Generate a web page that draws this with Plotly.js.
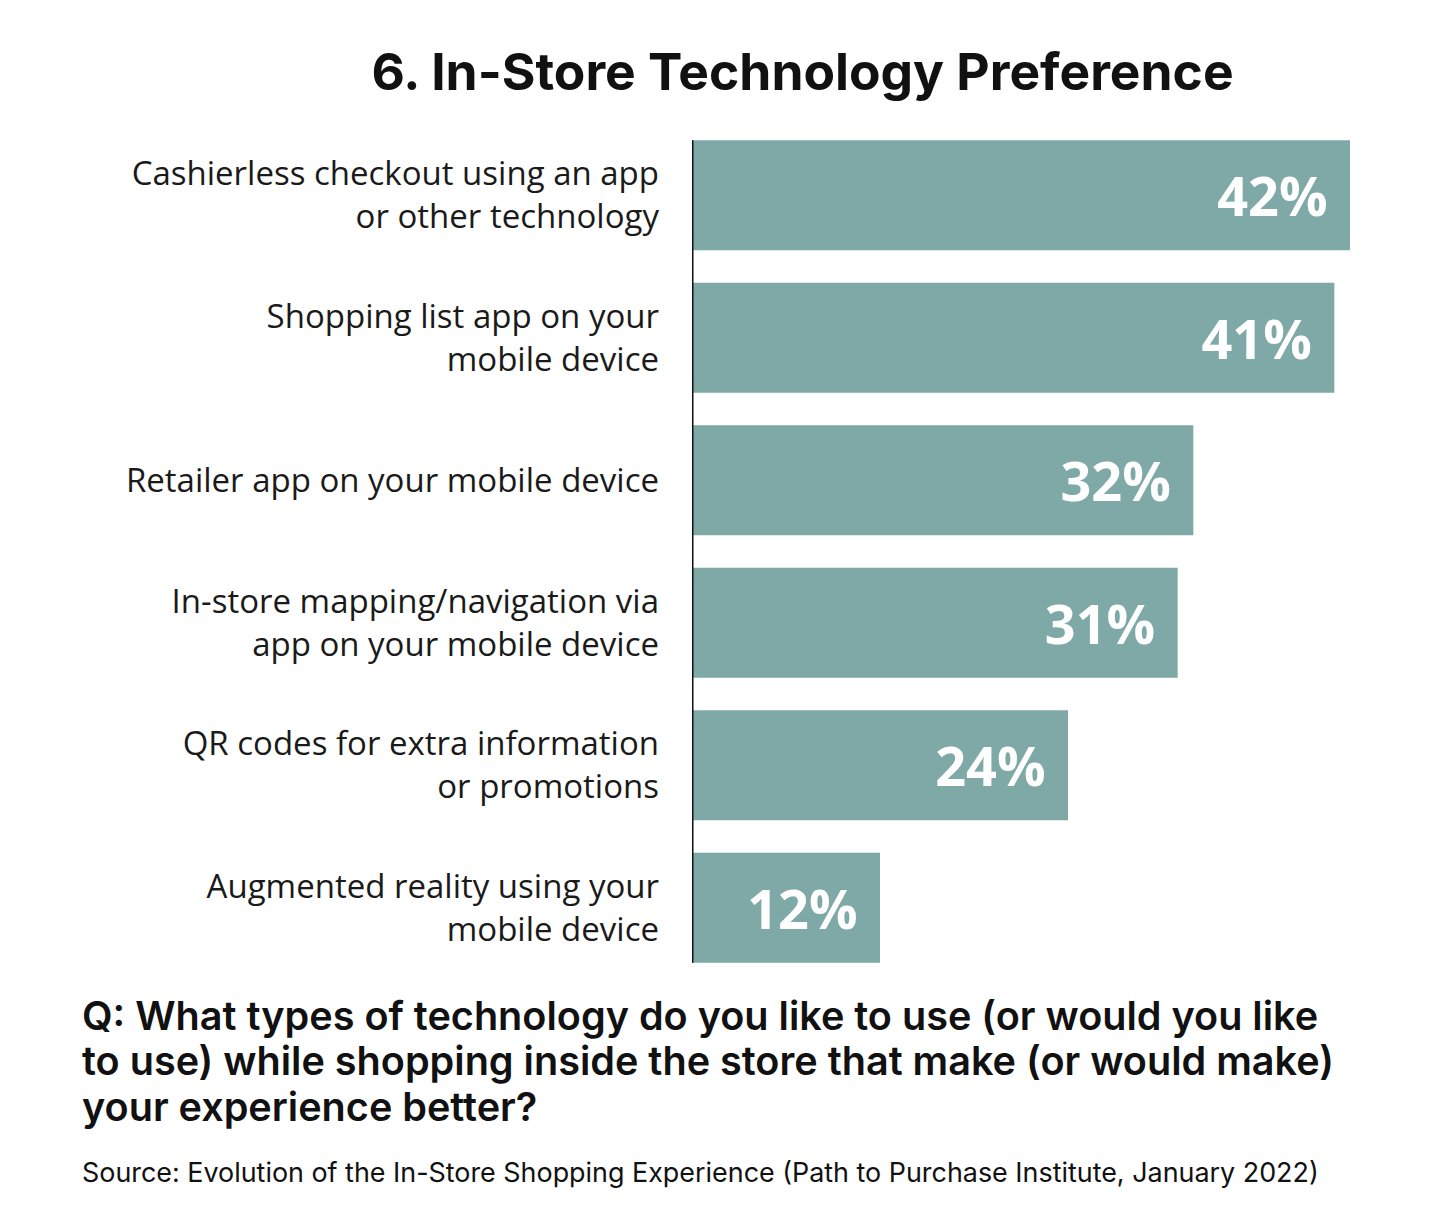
<!DOCTYPE html>
<html>
<head>
<meta charset="utf-8">
<script src="https://cdn.plot.ly/plotly-3.0.1.min.js"></script>
<style>
  html, body { margin: 0; padding: 0; background: #ffffff; }
  #chart { width: 1440px; height: 1220px; }
</style>
</head>
<body>
<div id="chart"></div>
<script>
const categories = [
  "Cashierless checkout using an app<br>or other technology",
  "Shopping list app on your<br>mobile device",
  "Retailer app on your mobile device",
  "In-store mapping/navigation via<br>app on your mobile device",
  "QR codes for extra information<br>or promotions",
  "Augmented reality using your<br>mobile device"
];
const values = [42, 41, 32, 31, 24, 12];

const titleText = "6. In-Store Technology Preference";
const questionLines = [
  "Q: What types of technology do you like to use (or would you like",
  "to use) while shopping inside the store that make (or would make)",
  "your experience better?"
];
const sourceText = "Source: Evolution of the In-Store Shopping Experience (Path to Purchase Institute, January 2022)";

const barColor = "#7ea9a7";
const bargap = 0.228;
const pad = "\u00a0\u200a";

const trace = {
  type: "bar",
  orientation: "h",
  y: categories,
  x: values,
  marker: { color: barColor },
  texttemplate: values.map(() => "%{x}%" + pad),
  textposition: "inside",
  insidetextanchor: "end",
  constraintext: "none",
  textfont: { family: "Open Sans, sans-serif", size: 54, color: "#ffffff", weight: 700 },
  hoverinfo: "skip",
  cliponaxis: false
};

const n = categories.length;
const plotH = 855, plotBottomPx = 979, plotW = 658, leftPx = 692;
const textX = -(leftPx - 80) / plotW;
const qYs = [1016, 1061, 1107];

const annotations = questionLines.map((line, i) => ({
  xref: "paper", yref: "paper",
  x: textX, y: -(qYs[i] - plotBottomPx) / plotH,
  xanchor: "left", yanchor: "middle", align: "left",
  showarrow: false,
  text: line,
  font: { family: "Inter, sans-serif", size: 39.6, color: "#111111", weight: 600 }
}));
annotations.push({
  xref: "paper", yref: "paper",
  x: textX, y: -(1172 - plotBottomPx) / plotH,
  xanchor: "left", yanchor: "middle", align: "left",
  showarrow: false,
  text: sourceText,
  font: { family: "Inter, sans-serif", size: 26.9, color: "#111111" }
});

const layout = {
  width: 1440,
  height: 1220,
  paper_bgcolor: "#ffffff",
  plot_bgcolor: "#ffffff",
  showlegend: false,
  bargap: bargap,
  margin: { l: leftPx, r: 90, t: 124, b: 241, pad: 0 },
  title: {
    text: titleText,
    font: { family: "Inter, sans-serif", size: 51.5, color: "#111111", weight: 700 },
    x: 802.5 / 1440, xanchor: "center",
    y: 1 - 72 / 1220, yanchor: "middle"
  },
  xaxis: {
    range: [0, Math.max(...values)],
    showgrid: false, zeroline: false, showticklabels: false, showline: false, ticks: ""
  },
  yaxis: {
    type: "category",
    autorange: "reversed",
    showgrid: false, zeroline: false, showline: false, ticks: "",
    ticklabelstandoff: 32,
    tickfont: { family: "Open Sans, sans-serif", size: 33, color: "#1a1a1a" }
  },
  shapes: [{
    type: "line", xref: "x", yref: "y",
    x0: 0, x1: 0,
    y0: -0.5 + bargap / 2, y1: n - 0.5 - bargap / 2,
    line: { color: "#111111", width: 3 }
  }],
  annotations: annotations
};

Plotly.newPlot("chart", [trace], layout, { displayModeBar: false, staticPlot: true });
</script>
</body>
</html>
